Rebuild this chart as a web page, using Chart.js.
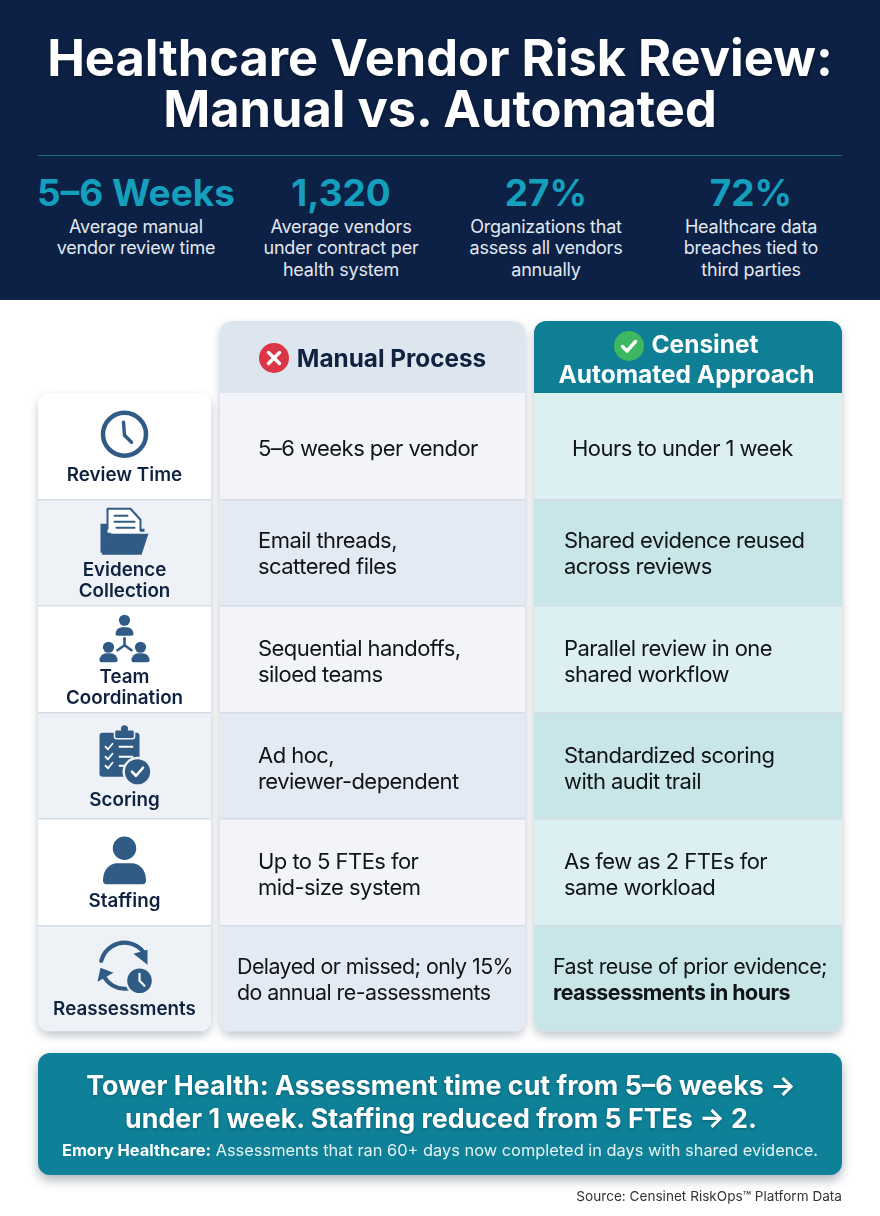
<!DOCTYPE html>
<html>
<head>
<meta charset="utf-8">
<script src="https://cdn.jsdelivr.net/npm/chart.js@4"></script>
<style>
  * { box-sizing: border-box; }
  html, body { margin: 0; padding: 0; width: 880px; height: 1216px; overflow: hidden; background: #fff; font-family: Inter, sans-serif; }
  #top { position: absolute; left: 0; top: 0; width: 880px; height: 300px; background: #0c2145; }
  #title { position: absolute; left: 0; top: 32px; width: 880px; text-align: center; color: #fff; font-weight: 700; font-size: 50.5px; line-height: 51px; white-space: nowrap; text-shadow: 0 2px 4px rgba(0,0,0,.3); }
  #rule { position: absolute; left: 38px; top: 155px; width: 804px; height: 1px; background: #1c6a80; }
  .stat { position: absolute; top: 172px; width: 205px; text-align: center; }
  .stat b { display: block; color: #14a0bd; font-size: 37px; line-height: 42px; font-weight: 700; white-space: nowrap; }
  .stat span { display: block; color: #e2e8f0; font-size: 18px; letter-spacing: -0.2px; line-height: 21.3px; margin-top: 2px; }
  .col { position: absolute; border-radius: 12px; overflow: hidden; box-shadow: 0 4px 9px rgba(40,55,80,.28); }
  .col canvas { display: block; }
  .head { position: absolute; left: 0; top: 0; width: 100%; height: 72px; font-weight: 700; }
  #headManual { background: #dde5ef; color: #0f2340; display: flex; align-items: center; justify-content: center; gap: 8px; font-size: 24.3px; padding-top: 2px; }
  #headAuto { background: #0f7f96; color: #fff; text-align: center; padding: 10px 3px 0 0; font-size: 24.5px; line-height: 27px; }
  #headAuto svg { vertical-align: -8px; margin-right: 7px; }
  .body { position: absolute; left: 0; width: 100%; }
  #banner { position: absolute; left: 38px; top: 1053px; width: 804px; height: 122px; border-radius: 12px; background: #0e8097; box-shadow: 0 5px 11px rgba(40,55,80,.38); color: #fff; text-align: center; }
  #bannerMain { position: absolute; left: 1px; top: 16px; width: 100%; font-weight: 700; font-size: 26.8px; line-height: 33px; white-space: nowrap; text-shadow: 0 1px 3px rgba(0,0,0,.25); }
  #bannerSub { position: absolute; left: 0; top: 87px; width: 100%; font-size: 16.4px; line-height: 20px; color: #e6f3f5; white-space: nowrap; }
  #bannerSub b { font-weight: 700; color: #fff; }
  #source { position: absolute; right: 38px; top: 1188px; font-size: 13.6px; line-height: 16px; color: #333; }
</style>
</head>
<body>
<div id="top">
  <div id="title"></div>
  <div id="rule"></div>
</div>

<div class="col" style="left:38px;top:393px;width:173px;height:639px"><canvas id="labelChart"></canvas></div>

<div class="col" style="left:220px;top:321px;width:305px;height:711px">
  <div class="head" id="headManual">
    <svg width="30" height="30" viewBox="0 0 30 30"><circle cx="15" cy="15" r="15" fill="#dc3545"/><path d="M9.5 9.5L20.5 20.5M20.5 9.5L9.5 20.5" stroke="#fff" stroke-width="3.4" stroke-linecap="round"/></svg>
    <span id="manualTitle"></span>
  </div>
  <div class="body" style="top:72px;height:639px"><canvas id="manualChart"></canvas></div>
</div>

<div class="col" style="left:534px;top:321px;width:308px;height:711px">
  <div class="head" id="headAuto">
    <svg width="30" height="30" viewBox="0 0 30 30"><circle cx="15" cy="15" r="15" fill="#3db860"/><path d="M8.5 15.5L13 20L21.5 10.5" fill="none" stroke="#fff" stroke-width="3.4" stroke-linecap="round" stroke-linejoin="round"/></svg><span id="autoTitle1"></span><br><span id="autoTitle2"></span>
  </div>
  <div class="body" style="top:72px;height:639px"><canvas id="autoChart"></canvas></div>
</div>

<div id="banner">
  <div id="bannerMain"></div>
  <div id="bannerSub"></div>
</div>
<div id="source"></div>

<script>
const titleLines = ["Healthcare Vendor Risk Review:", "Manual vs. Automated"];
const statValues = ["5–6 Weeks", "1,320", "27%", "72%"];
const statLabels = [
  ["Average manual", "vendor review time"],
  ["Average vendors", "under contract per", "health system"],
  ["Organizations that", "assess all vendors", "annually"],
  ["Healthcare data", "breaches tied to", "third parties"],
];
const categories = [
  ["Review Time"],
  ["Evidence", "Collection"],
  ["Team", "Coordination"],
  ["Scoring"],
  ["Staffing"],
  ["Reassessments"],
];
const manualCells = [
  ["5–6 weeks per vendor"],
  ["Email threads,", "scattered files"],
  ["Sequential handoffs,", "siloed teams"],
  ["Ad hoc,", "reviewer-dependent"],
  ["Up to 5 FTEs for", "mid-size system"],
  ["Delayed or missed; only 15%", "do annual re-assessments"],
];
const autoCells = [
  ["Hours to under 1 week"],
  ["Shared evidence reused", "across reviews"],
  ["Parallel review in one", "shared workflow"],
  ["Standardized scoring", "with audit trail"],
  ["As few as 2 FTEs for", "same workload"],
  ["Fast reuse of prior evidence;", "reassessments in hours"],
];
const rowShare = [1, 1, 1, 1, 1, 1];
const boldLines = ["reassessments in hours"];
const bannerMain = ["Tower Health: Assessment time cut from 5–6 weeks →", "under 1 week. Staffing reduced from 5 FTEs → 2."];
const bannerLead = "Emory Healthcare:";
const bannerRest = " Assessments that ran 60+ days now completed in days with shared evidence.";
const sourceText = "Source: Censinet RiskOps™ Platform Data";

// header and banner text
document.getElementById("title").innerHTML = titleLines.join("<br>");
statValues.forEach((v, i) => {
  const d = document.createElement("div");
  d.className = "stat";
  d.style.left = 33.5 + i * 205 + "px";
  d.innerHTML = `<b>${v}</b><span>${statLabels[i].join("<br>")}</span>`;
  document.getElementById("top").appendChild(d);
});
document.getElementById("manualTitle").textContent = "Manual Process";
document.getElementById("autoTitle1").textContent = "Censinet";
document.getElementById("autoTitle2").textContent = "Automated Approach";
document.getElementById("bannerMain").innerHTML = bannerMain.join("<br>");
document.getElementById("bannerSub").innerHTML = `<b>${bannerLead}</b>${bannerRest}`;
document.getElementById("source").textContent = sourceText;

const ICON = "#305b85";

function disc(ctx, x, y, r, color) {
  ctx.fillStyle = color;
  ctx.beginPath();
  ctx.arc(x, y, r, 0, Math.PI * 2);
  ctx.fill();
}
function line(ctx, pts, color, w) {
  ctx.strokeStyle = color;
  ctx.lineWidth = w;
  ctx.lineCap = "round";
  ctx.lineJoin = "round";
  ctx.beginPath();
  pts.forEach((p, i) => (i ? ctx.lineTo(p[0], p[1]) : ctx.moveTo(p[0], p[1])));
  ctx.stroke();
}
function poly(ctx, pts, color) {
  ctx.fillStyle = color;
  ctx.beginPath();
  pts.forEach((p, i) => (i ? ctx.lineTo(p[0], p[1]) : ctx.moveTo(p[0], p[1])));
  ctx.closePath();
  ctx.fill();
}
function shoulders(ctx, x, y, w, h) {
  ctx.fillStyle = ICON;
  ctx.beginPath();
  ctx.roundRect(x - w / 2, y, w, h, [h * 0.8, h * 0.8, 2, 2]);
  ctx.fill();
}

// row icons, drawn around (0,0) of each row's icon spot
const iconDraw = [
  (ctx) => {
    ctx.strokeStyle = ICON;
    ctx.lineWidth = 4.5;
    ctx.beginPath();
    ctx.arc(0, 0, 21.5, 0, Math.PI * 2);
    ctx.stroke();
    line(ctx, [[-1, -12], [0, 1], [7, 8]], ICON, 3.4);
  },
  (ctx) => {
    poly(ctx, [[-24, -9], [-24, 20], [-20, 20], [-13, -1], [20, -1], [20, -4], [-8, -4], [-12, -9]], ICON);
    poly(ctx, [[-17, -24], [6, -24], [16, -13], [16, 0], [-17, 0]], "#fff");
    line(ctx, [[-17, -4], [-17, -24], [6, -24], [16, -13], [16, -2]], ICON, 2);
    line(ctx, [[-10, -17], [3, -17]], ICON, 2);
    line(ctx, [[-10, -11], [10, -11]], ICON, 2);
    line(ctx, [[-8, -5], [10, -5]], ICON, 2);
    poly(ctx, [[-14, 1], [24, 1], [17, 22], [-23, 22]], ICON);
  },
  (ctx) => {
    disc(ctx, 0, -20, 5.6, ICON);
    shoulders(ctx, 0, -13, 18, 8.5);
    disc(ctx, -16, 7, 5.6, ICON);
    shoulders(ctx, -16, 13, 18, 9);
    disc(ctx, 16, 7, 5.6, ICON);
    shoulders(ctx, 16, 13, 18, 9);
    line(ctx, [[0, -2], [0, 5]], ICON, 2.6);
    line(ctx, [[-7, 10], [0, 5], [7, 10]], ICON, 2.6);
  },
  (ctx) => {
    ctx.fillStyle = ICON;
    ctx.beginPath();
    ctx.roundRect(-25, -22, 40, 44, 3);
    ctx.fill();
    ctx.strokeStyle = "#eef2f6";
    ctx.lineWidth = 1.5;
    ctx.beginPath();
    ctx.roundRect(-10, -25, 20, 9, 2);
    ctx.fillStyle = ICON;
    ctx.fill();
    ctx.stroke();
    disc(ctx, 0, -26, 3.6, ICON);
    [-8, 2, 11].forEach((y, i) => {
      line(ctx, [[-19, y], [-16.5, y + 2.5], [-12, y - 3]], "#fff", 1.8);
      line(ctx, [[-5, y], [i === 2 ? 0 : 8, y]], "#fff", 1.8);
    });
    disc(ctx, 13, 17, 15, "#eef2f6");
    disc(ctx, 13, 17, 12.6, ICON);
    line(ctx, [[7.5, 17], [11.5, 21], [18.5, 13]], "#fff", 2.6);
  },
  (ctx) => {
    disc(ctx, 0, -12, 11.7, ICON);
    ctx.fillStyle = ICON;
    ctx.beginPath();
    ctx.moveTo(-21.5, 20);
    ctx.bezierCurveTo(-21.5, 8, -13, 3, -8, 3);
    ctx.lineTo(8, 3);
    ctx.bezierCurveTo(13, 3, 21.5, 8, 21.5, 20);
    ctx.quadraticCurveTo(21.5, 24, 18, 24);
    ctx.lineTo(-18, 24);
    ctx.quadraticCurveTo(-21.5, 24, -21.5, 20);
    ctx.fill();
  },
  (ctx) => {
    ctx.strokeStyle = ICON;
    ctx.lineWidth = 4.2;
    ctx.lineCap = "round";
    ctx.beginPath();
    ctx.arc(0, -1, 24, Math.PI * 1.08, Math.PI * 1.8);
    ctx.stroke();
    poly(ctx, [[23, -3], [23, -18], [9, -14]], ICON);
    ctx.beginPath();
    ctx.arc(0, -2, 23, Math.PI * 0.45, Math.PI * 0.88);
    ctx.stroke();
    poly(ctx, [[-27, 14], [-24, 0], [-11, 5]], ICON);
    disc(ctx, 15, 13, 14.5, "#eef2f6");
    disc(ctx, 15, 13, 12.3, ICON);
    line(ctx, [[15, 6], [15, 13], [20, 18]], "#fff", 2.2);
  },
];

// fills in the text of each row from the chart's own bar elements
const cellText = {
  id: "cellText",
  afterDatasetsDraw(chart, args, opts) {
    const ctx = chart.ctx;
    const bars = chart.getDatasetMeta(0).data;
    bars.forEach((bar, i) => {
      const lines = opts.cells[i];
      ctx.save();
      if (opts.icons) {
        ctx.save();
        ctx.translate(chart.chartArea.left + chart.chartArea.width / 2, bar.y + opts.iconY[i]);
        opts.icons[i](ctx);
        ctx.restore();
      }
      ctx.fillStyle = opts.color;
      ctx.textBaseline = "middle";
      ctx.textAlign = opts.align;
      ctx.letterSpacing = opts.spacing + "px";
      const x = opts.align === "center" ? chart.chartArea.width / 2 : opts.insets[i];
      const first = bar.y + opts.textY[i] - ((lines.length - 1) * opts.lineHeight) / 2;
      lines.forEach((t, k) => {
        const weight = boldLines.includes(t) ? 700 : opts.weight;
        ctx.font = `${weight} ${opts.sizes[i]}px Inter, sans-serif`;
        ctx.fillText(t, x, first + k * opts.lineHeight);
      });
      ctx.restore();
    });
  },
};

function columnChart(id, rowColors, textOpts) {
  return new Chart(document.getElementById(id), {
    type: "bar",
    plugins: [cellText],
    data: {
      labels: categories.map((c) => c.join(" ")),
      datasets: [{
        data: rowShare,
        backgroundColor: rowColors,
        barPercentage: 1,
        categoryPercentage: 1,
      }],
    },
    options: {
      indexAxis: "y",
      responsive: true,
      maintainAspectRatio: false,
      animation: false,
      events: [],
      layout: { padding: 0 },
      plugins: { legend: { display: false }, tooltip: { enabled: false }, cellText: textOpts },
      scales: {
        x: { display: false, min: 0, max: 1 },
        y: {
          ticks: { display: false },
          border: { display: false },
          grid: {
            z: 1,
            drawTicks: false,
            lineWidth: 1.5,
            color: (c) => (c.index === 0 ? "rgba(0,0,0,0)" : "#d4dce6"),
          },
        },
      },
    },
  });
}

columnChart("labelChart", ["#ffffff", "#eef2f6", "#ffffff", "#eef2f6", "#ffffff", "#eef2f6"], {
  cells: categories,
  icons: iconDraw,
  iconY: [-12, -20, -19, -11, -12, -11],
  textY: [29, 28, 29, 35, 29, 31],
  align: "center",
  color: "#0f2340",
  sizes: [18.8, 18.8, 18.8, 18.8, 18.8, 18.8],
  spacing: 0,
  weight: 600,
  lineHeight: 21,
});
columnChart("manualChart", ["#f2f4f9", "#e4eaf3", "#f2f4f9", "#e4eaf3", "#f2f4f9", "#e4eaf3"], {
  cells: manualCells,
  align: "left",
  insets: [38, 38, 38, 38, 38, 17],
  textY: [3, 2, 3, 4, 3, 2],
  color: "#111418",
  sizes: [22, 22, 22, 22, 22, 21.4],
  spacing: -0.55,
  weight: 400,
  lineHeight: 26,
});
columnChart("autoChart", ["#dcf0f2", "#c8e5e8", "#dcf0f2", "#c8e5e8", "#dcf0f2", "#c8e5e8"], {
  cells: autoCells,
  align: "left",
  insets: [38, 30, 30, 30, 30, 19],
  textY: [3, 2, 3, 4, 3, 2],
  color: "#111418",
  sizes: [22, 22, 22, 22, 22, 21.4],
  spacing: -0.55,
  weight: 400,
  lineHeight: 26,
});
</script>
</body>
</html>
